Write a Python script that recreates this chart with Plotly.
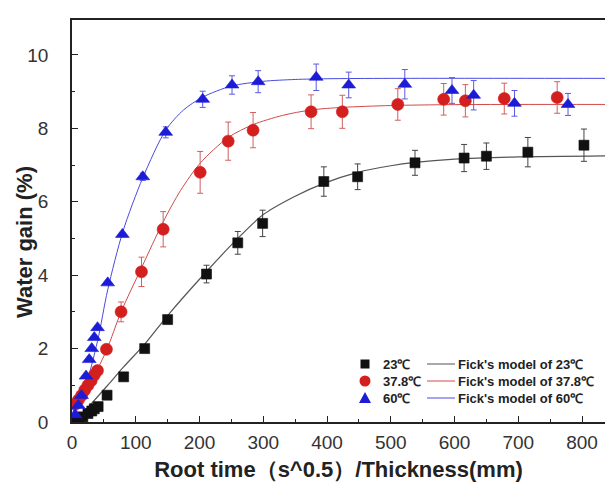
import plotly.graph_objects as go

# ---- measured water gain (%) vs root time / thickness ----
x_23 = [5, 11, 17, 25, 31, 35, 41, 55, 81, 114, 150, 211, 260, 299, 395, 448, 538, 615, 650, 715, 803]
y_23 = [0.03, 0.09, 0.14, 0.23, 0.30, 0.36, 0.42, 0.73, 1.23, 2.00, 2.79, 4.03, 4.88, 5.41, 6.55, 6.68, 7.06, 7.19, 7.24, 7.35, 7.54]
e_23 = [0, 0, 0, 0, 0, 0, 0, 0, 0, 0.05, 0.1, 0.24, 0.31, 0.36, 0.40, 0.35, 0.34, 0.37, 0.36, 0.40, 0.44]

x_378 = [5, 10, 15, 20, 25, 30, 35, 40, 54, 77, 109, 143, 201, 245, 284, 375, 424, 511, 583, 617, 678, 761]
y_378 = [0.48, 0.60, 0.72, 0.87, 1.00, 1.12, 1.28, 1.40, 1.98, 3.00, 4.09, 5.25, 6.80, 7.65, 7.95, 8.45, 8.45, 8.65, 8.79, 8.75, 8.81, 8.84]
e_378 = [0, 0, 0, 0, 0, 0, 0, 0, 0.1, 0.27, 0.40, 0.48, 0.57, 0.52, 0.48, 0.46, 0.45, 0.43, 0.43, 0.44, 0.42, 0.43]

x_60 = [5, 10, 15, 22, 27, 31, 35, 40, 56, 79, 111, 147, 205, 251, 292, 383, 434, 522, 596, 630, 694, 778]
y_60 = [0.20, 0.45, 0.72, 1.25, 1.70, 2.00, 2.30, 2.57, 3.79, 5.11, 6.68, 7.89, 8.79, 9.18, 9.27, 9.39, 9.18, 9.20, 9.03, 8.90, 8.68, 8.65]
e_60 = [0, 0, 0, 0, 0, 0, 0, 0, 0, 0.05, 0.1, 0.15, 0.22, 0.25, 0.30, 0.36, 0.35, 0.40, 0.35, 0.40, 0.35, 0.30]

# ---- Fick's model curves ----
fx_23 = [5, 55, 81, 114, 150, 211, 260, 300, 350, 395, 448, 500, 538, 600, 700, 836]
fy_23 = [0.0, 0.98, 1.50, 2.12, 2.90, 4.10, 5.00, 5.65, 6.15, 6.50, 6.80, 6.98, 7.07, 7.16, 7.22, 7.25]

fx_378 = [0, 25, 54, 77, 109, 143, 170, 201, 245, 284, 330, 375, 424, 500, 600, 836]
fy_378 = [0.40, 0.95, 1.95, 3.00, 4.20, 5.45, 6.30, 7.05, 7.75, 8.10, 8.35, 8.50, 8.57, 8.62, 8.645, 8.65]

fx_60 = [0, 20, 40, 56, 80, 111, 147, 175, 205, 250, 300, 350, 400, 500, 836]
fy_60 = [0.10, 0.90, 2.20, 3.60, 5.20, 6.65, 7.95, 8.50, 8.85, 9.15, 9.28, 9.33, 9.35, 9.36, 9.36]

BLACK = "#111111"
RED = "#d41f1f"
BLUE = "#1c1cd6"

fig = go.Figure()

# model curves
for fx, fy, col, w in [(fx_23, fy_23, "#555555", 1.2), (fx_378, fy_378, "#d24a4a", 1.0), (fx_60, fy_60, "#4a4ae0", 1.0)]:
    fig.add_trace(go.Scatter(x=fx, y=fy, mode="lines", line=dict(color=col, width=w, shape="spline", smoothing=0.8),
                             showlegend=False, hoverinfo="skip"))

# measured points with error bars
for xs, ys, es, col, ecol, sym, sz in [
    (x_23, y_23, e_23, BLACK, "#444444", "square", 10),
    (x_378, y_378, e_378, RED, "#d06060", "circle", 12),
    (x_60, y_60, e_60, BLUE, "#5a5ae0", "triangle-up", 12),
]:
    fig.add_trace(go.Scatter(
        x=xs, y=ys, mode="markers",
        marker=dict(symbol=sym, size=sz, color=col, line=dict(width=0.6, color=col)),
        error_y=dict(type="data", array=es, visible=True, color=ecol, thickness=1, width=3),
        showlegend=False,
    ))

# ---- legend (drawn manually in pixel space of the page) ----
W, H = 605, 482
L, R, T, B = 72, 0, 20, 60
pw, ph = W - L - R, H - T - B


def px(x):
    return (x - L) / pw


def py(y):
    return (H - B - y) / ph


legend_rows = [
    ("23℃", "Fick's model of 23℃", BLACK, "#555555", "square"),
    ("37.8℃", "Fick's model of 37.8℃", RED, "#d24a4a", "circle"),
    ("60℃", "Fick's model of 60℃", BLUE, "#4a4ae0", "triangle"),
]
shapes = []
annotations = []
row_y = [364, 381, 398]
for (lab, flab, mcol, lcol, kind), yy in zip(legend_rows, row_y):
    cx = 365
    if kind == "square":
        shapes.append(dict(type="rect", xref="paper", yref="paper", x0=px(cx - 4.5), x1=px(cx + 4.5),
                           y0=py(yy + 4.5), y1=py(yy - 4.5), fillcolor=mcol, line=dict(width=0)))
    elif kind == "circle":
        shapes.append(dict(type="circle", xref="paper", yref="paper", x0=px(cx - 5.5), x1=px(cx + 5.5),
                           y0=py(yy + 5.5), y1=py(yy - 5.5), fillcolor=mcol, line=dict(width=0)))
    else:
        path = "M {} {} L {} {} L {} {} Z".format(px(cx - 6), py(yy + 5), px(cx + 6), py(yy + 5), px(cx), py(yy - 6))
        shapes.append(dict(type="path", xref="paper", yref="paper", path=path, fillcolor=mcol, line=dict(width=0)))
    shapes.append(dict(type="line", xref="paper", yref="paper", x0=px(427), x1=px(455), y0=py(yy), y1=py(yy),
                       line=dict(color=lcol, width=1)))
    annotations.append(dict(xref="paper", yref="paper", x=px(381), y=py(yy), text="<b>%s</b>" % lab,
                            showarrow=False, xanchor="left", yanchor="middle",
                            font=dict(family="Arial", size=13, color="#222222")))
    annotations.append(dict(xref="paper", yref="paper", x=px(456), y=py(yy), text="<b>%s</b>" % flab,
                            showarrow=False, xanchor="left", yanchor="middle",
                            font=dict(family="Arial", size=13, color="#222222")))

# y-axis title placed as a rotated annotation
annotations.append(dict(xref="paper", yref="paper", x=px(24), y=py(242), text="<b>Water gain (%)</b>",
                        textangle=-90, showarrow=False, xanchor="center", yanchor="middle",
                        font=dict(family="Arial", size=22, color="#222222")))

fig.update_layout(
    width=W, height=H,
    margin=dict(l=L, r=R, t=T, b=B),
    paper_bgcolor="white", plot_bgcolor="white",
    font=dict(family="Arial", color="#333333"),
    shapes=shapes, annotations=annotations,
    showlegend=False,
)

fig.update_xaxes(
    range=[0, 836], dtick=100, tick0=0,
    showgrid=False, zeroline=False,
    showline=True, linecolor="#222222", linewidth=1.6, mirror=True,
    ticks="inside", ticklen=6, tickwidth=1.4, tickcolor="#222222",
    minor=dict(dtick=50, ticks="inside", ticklen=3, tickwidth=1.2, tickcolor="#222222"),
    tickfont=dict(size=19, color="#333333"),
    ticklabelstandoff=2,
    title=dict(text="<b>Root time（s^0.5）/Thickness(mm)</b>", font=dict(size=22, color="#222222"), standoff=10),
)
fig.update_yaxes(
    range=[0, 10.95], dtick=2, tick0=0,
    showgrid=False, zeroline=False,
    showline=True, linecolor="#222222", linewidth=1.6, mirror=False,
    ticks="inside", ticklen=6, tickwidth=1.4, tickcolor="#222222",
    minor=dict(dtick=1, ticks="inside", ticklen=3, tickwidth=1.2, tickcolor="#222222"),
    tickfont=dict(size=19, color="#333333"),
    ticklabelstandoff=18,
)

fig.write_html("out.html")
